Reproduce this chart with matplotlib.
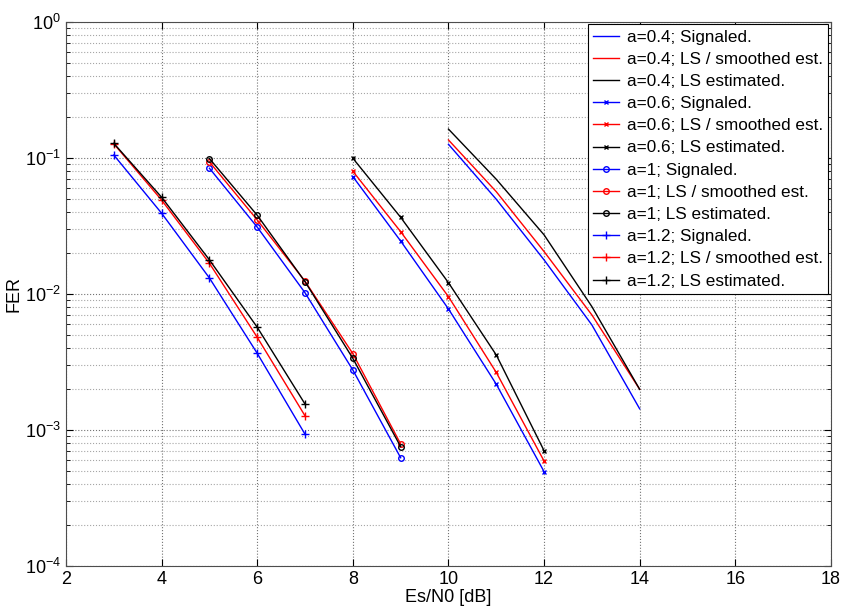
import matplotlib.pyplot as plt
from matplotlib.ticker import LogLocator, NullFormatter

plt.rcParams['font.family'] = ['Liberation Sans', 'DejaVu Sans']
plt.rcParams['mathtext.default'] = 'regular'

# Es/N0 points for each roll-off factor
x_a04 = [10, 11, 12, 13, 14]
x_a06 = [8, 9, 10, 11, 12]
x_a1 = [5, 6, 7, 8, 9]
x_a12 = [3, 4, 5, 6, 7]

# FER values: signaled, LS / smoothed est., LS estimated
a04_sig = [0.126, 0.0497, 0.0178, 0.00592, 0.00143]
a04_smooth = [0.1356, 0.0565, 0.0205, 0.00701, 0.00199]
a04_ls = [0.163, 0.0697, 0.0272, 0.00807, 0.00199]

a06_sig = [0.0729, 0.0245, 0.00776, 0.00217, 0.000494]
a06_smooth = [0.0798, 0.0287, 0.00955, 0.00265, 0.000591]
a06_ls = [0.0995, 0.0366, 0.0121, 0.00356, 0.000704]

a1_sig = [0.084, 0.031, 0.0102, 0.00276, 0.000625]
a1_smooth = [0.0935, 0.035, 0.0124, 0.00364, 0.000789]
a1_ls = [0.0989, 0.0379, 0.0123, 0.00336, 0.000754]

a12_sig = [0.105, 0.0392, 0.0131, 0.00366, 0.00093]
a12_smooth = [0.127, 0.049, 0.0168, 0.0048, 0.00127]
a12_ls = [0.128, 0.0514, 0.0178, 0.00569, 0.00155]

fig = plt.figure(figsize=(8.41, 6.09), dpi=100)
ax = fig.add_axes([0.0785, 0.0706, 0.9095, 0.8934])

ax.semilogy(x_a04, a04_sig, 'b-', lw=1, label='a=0.4; Signaled.')
ax.semilogy(x_a04, a04_smooth, 'r-', lw=1, label='a=0.4; LS / smoothed est.')
ax.semilogy(x_a04, a04_ls, 'k-', lw=1, label='a=0.4; LS estimated.')
ax.semilogy(x_a06, a06_sig, 'b-x', lw=1, ms=3, label='a=0.6; Signaled.')
ax.semilogy(x_a06, a06_smooth, 'r-x', lw=1, ms=3, label='a=0.6; LS / smoothed est.')
ax.semilogy(x_a06, a06_ls, 'k-x', lw=1, ms=3, label='a=0.6; LS estimated.')
ax.semilogy(x_a1, a1_sig, 'b-o', lw=1, ms=4, mfc='none', label='a=1; Signaled.')
ax.semilogy(x_a1, a1_smooth, 'r-o', lw=1, ms=4, mfc='none', label='a=1; LS / smoothed est.')
ax.semilogy(x_a1, a1_ls, 'k-o', lw=1, ms=4, mfc='none', label='a=1; LS estimated.')
ax.semilogy(x_a12, a12_sig, 'b-+', lw=1, ms=6, label='a=1.2; Signaled.')
ax.semilogy(x_a12, a12_smooth, 'r-+', lw=1, ms=6, label='a=1.2; LS / smoothed est.')
ax.semilogy(x_a12, a12_ls, 'k-+', lw=1, ms=6, label='a=1.2; LS estimated.')

ax.set_xlim(2, 18)
ax.set_ylim(1e-4, 1)
ax.set_xticks(range(2, 19, 2))
ax.yaxis.set_major_locator(LogLocator(base=10, numticks=10))
ax.yaxis.set_minor_locator(LogLocator(base=10, subs=range(2, 10), numticks=10))
ax.yaxis.set_minor_formatter(NullFormatter())
ax.tick_params(which='both', direction='in', top=True, right=True, labelsize=13)
ax.tick_params(which='major', length=5)
ax.tick_params(which='minor', length=3)
for s in ax.spines.values():
    s.set_color('0.3')

ax.grid(True, which='major', ls=':', color='0.45', lw=0.8)
ax.grid(True, which='minor', axis='y', ls=':', color='0.65', lw=0.8)

ax.set_xlabel('Es/N0 [dB]', fontsize=13, labelpad=1)
ax.set_ylabel('FER', fontsize=13, labelpad=2)

leg = ax.legend(loc='upper right', fontsize=12.3, fancybox=False, framealpha=1,
                edgecolor='black', borderaxespad=0.15, handlelength=1.5,
                labelspacing=0.42, borderpad=0.3, handletextpad=0.5)
leg.get_frame().set_linewidth(0.8)

fig.savefig('out.png', dpi=100)
